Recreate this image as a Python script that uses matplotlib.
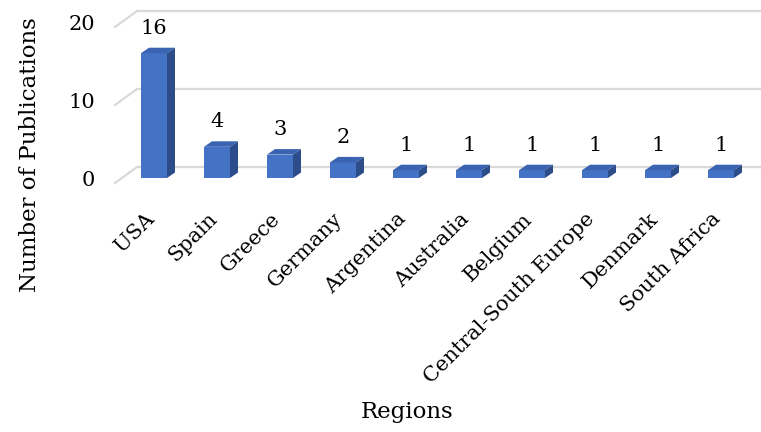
import numpy as np
import matplotlib.pyplot as plt
from matplotlib.patches import Polygon

# --- Data ---
regions = ["USA", "Spain", "Greece", "Germany", "Argentina", "Australia",
           "Belgium", "Central-South Europe", "Denmark", "South Africa"]
publications = [16, 4, 3, 2, 1, 1, 1, 1, 1, 1]
y_ticks = [0, 10, 20]

# --- Style / geometry (pixel scale of the pseudo-3D Excel look) ---
PX_X = 63.0     # px per category
PX_Y = 7.8      # px per publication
FRONT = "#4472C4"
TOP = "#3A64B2"
SIDE = "#2C4D8A"
GRID = "#D9D9D9"
FONT = "DejaVu Serif"
FS = 15
FS_TITLE = 16.5

bar_w = 26 / PX_X
bar_dx, bar_dy = 8 / PX_X, 5.5 / PX_Y          # bar depth
back_dx, back_dy = 15 / PX_X, 11 / PX_Y        # back wall offset
front_dx, front_dy = -7 / PX_X, -5 / PX_Y      # front floor edge offset

plt.rcParams['font.family'] = [FONT, 'DejaVu Sans']

fig = plt.figure(figsize=(7.61, 4.32), dpi=100)
ax = fig.add_axes([100 / 761, (432 - 200) / 432, 661 / 761, 200 / 432])
ax.set_xlim((100 - 154) / PX_X, (761 - 154) / PX_X)
ax.set_ylim((178 - 200) / PX_Y, 178 / PX_Y)
ax.axis("off")

x = np.arange(len(regions))
x_back = (137 - 154) / PX_X
x_front = (115 - 154) / PX_X
x_end = ax.get_xlim()[1]

# gridlines: back wall + diagonal on the side wall
for v in y_ticks:
    ax.plot([x_back, x_end], [v + back_dy, v + back_dy], color=GRID, lw=1.6,
            zorder=1, solid_capstyle="butt", clip_on=False)
    ax.plot([x_front, x_back], [v + front_dy, v + back_dy], color=GRID, lw=1.6,
            zorder=1, clip_on=False)
    ax.text(x_front - 20 / PX_X, v + front_dy + 0.3, str(v), ha="right",
            va="center", fontsize=FS)

# bars: front face + top + side
ax.bar(x, publications, width=bar_w, color=FRONT, zorder=3)
for xi, v in zip(x, publications):
    l, r = xi - bar_w / 2, xi + bar_w / 2
    top = [(l, v), (r, v), (r + bar_dx, v + bar_dy), (l + bar_dx, v + bar_dy)]
    side = [(r, 0), (r + bar_dx, bar_dy), (r + bar_dx, v + bar_dy), (r, v)]
    ax.add_patch(Polygon(top, closed=True, color=TOP, zorder=3, lw=0))
    ax.add_patch(Polygon(side, closed=True, color=SIDE, zorder=3, lw=0))
    ax.text(xi, v + 3.2, str(v), ha="center", va="center", fontsize=FS)

# category labels
for xi, name in zip(x, regions):
    ax.text(xi - 3 / PX_X, (178 - 216) / PX_Y, name, rotation=45,
            rotation_mode="anchor", ha="right", va="center", fontsize=FS)

fig.text(30 / 761, 1 - 155 / 432, "Number of Publications", rotation=90,
         ha="center", va="center", fontsize=FS_TITLE)
fig.text(407 / 761, 1 - 412 / 432, "Regions", ha="center", va="center",
         fontsize=FS_TITLE)

plt.savefig("out.png", dpi=100)
